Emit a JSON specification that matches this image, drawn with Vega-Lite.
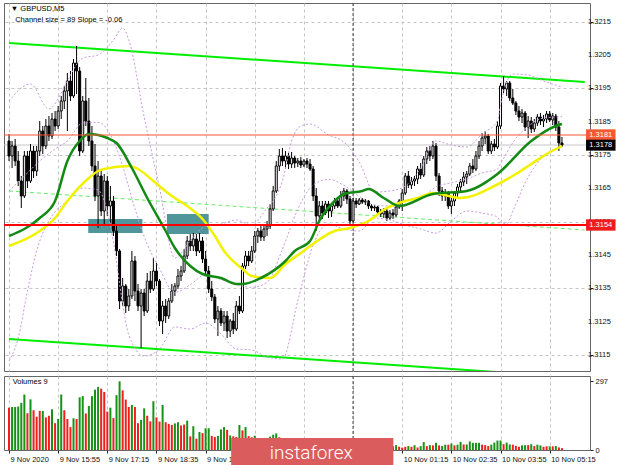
{
"$schema":"https://vega.github.io/schema/vega-lite/v6.json",
"background":"white",
"padding":{"left":2,"top":2,"right":0,"bottom":0},
"spacing":3,
"config":{"view":{"stroke":"#666666","strokeWidth":1},"font":"Liberation Sans","axis":{"gridColor":"#c4c4c4","gridDash":[3,3],"gridWidth":1,"labelFont":"Liberation Sans","labelFontSize":7.5,"labelColor":"#111111","tickColor":"#222222","tickSize":3,"domain":false,"title":null}},
"datasets":{
"bars":[
{"t":"2020-11-09T14:35","o":1.31792,"h":1.31813,"l":1.31732,"c":1.31747,"v":183,"d":"R"},
{"t":"2020-11-09T14:40","o":1.31747,"h":1.31792,"l":1.31711,"c":1.31777,"v":186,"d":"G"},
{"t":"2020-11-09T14:45","o":1.31777,"h":1.31798,"l":1.31717,"c":1.31732,"v":186,"d":"G"},
{"t":"2020-11-09T14:50","o":1.31732,"h":1.31762,"l":1.31657,"c":1.31672,"v":188,"d":"G"},
{"t":"2020-11-09T14:55","o":1.31672,"h":1.31687,"l":1.31591,"c":1.31627,"v":204,"d":"G"},
{"t":"2020-11-09T15:00","o":1.31627,"h":1.31762,"l":1.31621,"c":1.31747,"v":240,"d":"G"},
{"t":"2020-11-09T15:05","o":1.31747,"h":1.31762,"l":1.31651,"c":1.31672,"v":159,"d":"R"},
{"t":"2020-11-09T15:10","o":1.31672,"h":1.31783,"l":1.31666,"c":1.31762,"v":219,"d":"G"},
{"t":"2020-11-09T15:15","o":1.31762,"h":1.31777,"l":1.31681,"c":1.31702,"v":172,"d":"R"},
{"t":"2020-11-09T15:20","o":1.31702,"h":1.31777,"l":1.31687,"c":1.31762,"v":144,"d":"R"},
{"t":"2020-11-09T15:25","o":1.31762,"h":1.31852,"l":1.31747,"c":1.31822,"v":169,"d":"R"},
{"t":"2020-11-09T15:30","o":1.31822,"h":1.31837,"l":1.31753,"c":1.31777,"v":169,"d":"G"},
{"t":"2020-11-09T15:35","o":1.31777,"h":1.31858,"l":1.31768,"c":1.31837,"v":141,"d":"R"},
{"t":"2020-11-09T15:40","o":1.31837,"h":1.31867,"l":1.31792,"c":1.31807,"v":148,"d":"R"},
{"t":"2020-11-09T15:45","o":1.31807,"h":1.31876,"l":1.31798,"c":1.31858,"v":176,"d":"G"},
{"t":"2020-11-09T15:50","o":1.31858,"h":1.31882,"l":1.31822,"c":1.31837,"v":116,"d":"R"},
{"t":"2020-11-09T15:55","o":1.31837,"h":1.31897,"l":1.31828,"c":1.31882,"v":134,"d":"G"},
{"t":"2020-11-09T16:00","o":1.31882,"h":1.31927,"l":1.31858,"c":1.31912,"v":240,"d":"G"},
{"t":"2020-11-09T16:05","o":1.31912,"h":1.31957,"l":1.31888,"c":1.31942,"v":172,"d":"R"},
{"t":"2020-11-09T16:10","o":1.31942,"h":1.31996,"l":1.31822,"c":1.31972,"v":134,"d":"R"},
{"t":"2020-11-09T16:15","o":1.31972,"h":1.32002,"l":1.31912,"c":1.31927,"v":99,"d":"R"},
{"t":"2020-11-09T16:20","o":1.31927,"h":1.32038,"l":1.31921,"c":1.32026,"v":137,"d":"G"},
{"t":"2020-11-09T16:25","o":1.32026,"h":1.32077,"l":1.31933,"c":1.32002,"v":134,"d":"R"},
{"t":"2020-11-09T16:30","o":1.32002,"h":1.32014,"l":1.31747,"c":1.31762,"v":228,"d":"G"},
{"t":"2020-11-09T16:35","o":1.31762,"h":1.31927,"l":1.31756,"c":1.31912,"v":233,"d":"G"},
{"t":"2020-11-09T16:40","o":1.31912,"h":1.31981,"l":1.31837,"c":1.31852,"v":158,"d":"R"},
{"t":"2020-11-09T16:45","o":1.31852,"h":1.31921,"l":1.31777,"c":1.31792,"v":190,"d":"G"},
{"t":"2020-11-09T16:50","o":1.31792,"h":1.31837,"l":1.31702,"c":1.31717,"v":233,"d":"G"},
{"t":"2020-11-09T16:55","o":1.31717,"h":1.31783,"l":1.31612,"c":1.31627,"v":261,"d":"G"},
{"t":"2020-11-09T17:00","o":1.31627,"h":1.31732,"l":1.31531,"c":1.31687,"v":273,"d":"G"},
{"t":"2020-11-09T17:05","o":1.31687,"h":1.31702,"l":1.31567,"c":1.31582,"v":265,"d":"R"},
{"t":"2020-11-09T17:10","o":1.31582,"h":1.31693,"l":1.31543,"c":1.31672,"v":251,"d":"R"},
{"t":"2020-11-09T17:15","o":1.31672,"h":1.31687,"l":1.31567,"c":1.31597,"v":166,"d":"R"},
{"t":"2020-11-09T17:20","o":1.31597,"h":1.31657,"l":1.31546,"c":1.31612,"v":183,"d":"G"},
{"t":"2020-11-09T17:25","o":1.31612,"h":1.31627,"l":1.31507,"c":1.31522,"v":138,"d":"R"},
{"t":"2020-11-09T17:30","o":1.31522,"h":1.31537,"l":1.31447,"c":1.31462,"v":237,"d":"G"},
{"t":"2020-11-09T17:35","o":1.31462,"h":1.31468,"l":1.31288,"c":1.31312,"v":297,"d":"G"},
{"t":"2020-11-09T17:40","o":1.31312,"h":1.31381,"l":1.31297,"c":1.31357,"v":258,"d":"R"},
{"t":"2020-11-09T17:45","o":1.31357,"h":1.31363,"l":1.31276,"c":1.31297,"v":218,"d":"R"},
{"t":"2020-11-09T17:50","o":1.31297,"h":1.31348,"l":1.31282,"c":1.31327,"v":186,"d":"R"},
{"t":"2020-11-09T17:55","o":1.31327,"h":1.31462,"l":1.31318,"c":1.31432,"v":195,"d":"G"},
{"t":"2020-11-09T18:00","o":1.31432,"h":1.31447,"l":1.31312,"c":1.31342,"v":186,"d":"R"},
{"t":"2020-11-09T18:05","o":1.31342,"h":1.31363,"l":1.31282,"c":1.31297,"v":116,"d":"R"},
{"t":"2020-11-09T18:10","o":1.31297,"h":1.31348,"l":1.31171,"c":1.31336,"v":130,"d":"G"},
{"t":"2020-11-09T18:15","o":1.31336,"h":1.31348,"l":1.31267,"c":1.31282,"v":180,"d":"G"},
{"t":"2020-11-09T18:20","o":1.31282,"h":1.31396,"l":1.31276,"c":1.31372,"v":148,"d":"R"},
{"t":"2020-11-09T18:25","o":1.31372,"h":1.31402,"l":1.31336,"c":1.31348,"v":124,"d":"R"},
{"t":"2020-11-09T18:30","o":1.31348,"h":1.31441,"l":1.31342,"c":1.31402,"v":211,"d":"G"},
{"t":"2020-11-09T18:35","o":1.31402,"h":1.31426,"l":1.31357,"c":1.31372,"v":141,"d":"R"},
{"t":"2020-11-09T18:40","o":1.31372,"h":1.31378,"l":1.31237,"c":1.31252,"v":123,"d":"R"},
{"t":"2020-11-09T18:45","o":1.31252,"h":1.31312,"l":1.31213,"c":1.31297,"v":195,"d":"G"},
{"t":"2020-11-09T18:50","o":1.31297,"h":1.31318,"l":1.31246,"c":1.31267,"v":120,"d":"R"},
{"t":"2020-11-09T18:55","o":1.31267,"h":1.31321,"l":1.31258,"c":1.31312,"v":113,"d":"R"},
{"t":"2020-11-09T19:00","o":1.31312,"h":1.31363,"l":1.31306,"c":1.31342,"v":108,"d":"R"},
{"t":"2020-11-09T19:05","o":1.31342,"h":1.31366,"l":1.31327,"c":1.31357,"v":115,"d":"G"},
{"t":"2020-11-09T19:10","o":1.31357,"h":1.31408,"l":1.31348,"c":1.31387,"v":120,"d":"G"},
{"t":"2020-11-09T19:15","o":1.31387,"h":1.31417,"l":1.31372,"c":1.31402,"v":106,"d":"R"},
{"t":"2020-11-09T19:20","o":1.31402,"h":1.31468,"l":1.31396,"c":1.31447,"v":110,"d":"R"},
{"t":"2020-11-09T19:25","o":1.31447,"h":1.31507,"l":1.31438,"c":1.31492,"v":127,"d":"G"},
{"t":"2020-11-09T19:30","o":1.31492,"h":1.31513,"l":1.31462,"c":1.31477,"v":59,"d":"R"},
{"t":"2020-11-09T19:35","o":1.31477,"h":1.31516,"l":1.31462,"c":1.31498,"v":103,"d":"G"},
{"t":"2020-11-09T19:40","o":1.31498,"h":1.31513,"l":1.31447,"c":1.31462,"v":49,"d":"R"},
{"t":"2020-11-09T19:45","o":1.31462,"h":1.31516,"l":1.31456,"c":1.31492,"v":78,"d":"G"},
{"t":"2020-11-09T19:50","o":1.31492,"h":1.31504,"l":1.31426,"c":1.31438,"v":73,"d":"R"},
{"t":"2020-11-09T19:55","o":1.31438,"h":1.31462,"l":1.31387,"c":1.31402,"v":94,"d":"G"},
{"t":"2020-11-09T20:00","o":1.31402,"h":1.31417,"l":1.31336,"c":1.31348,"v":94,"d":"G"},
{"t":"2020-11-09T20:05","o":1.31348,"h":1.31372,"l":1.31312,"c":1.31324,"v":61,"d":"R"},
{"t":"2020-11-09T20:10","o":1.31324,"h":1.31333,"l":1.31246,"c":1.31258,"v":56,"d":"R"},
{"t":"2020-11-09T20:15","o":1.31258,"h":1.31297,"l":1.31207,"c":1.31282,"v":61,"d":"G"},
{"t":"2020-11-09T20:20","o":1.31282,"h":1.31291,"l":1.31237,"c":1.31246,"v":89,"d":"G"},
{"t":"2020-11-09T20:25","o":1.31246,"h":1.31282,"l":1.31222,"c":1.31267,"v":99,"d":"G"},
{"t":"2020-11-09T20:30","o":1.31267,"h":1.31282,"l":1.31201,"c":1.31222,"v":87,"d":"R"},
{"t":"2020-11-09T20:35","o":1.31222,"h":1.31258,"l":1.31204,"c":1.31252,"v":63,"d":"G"},
{"t":"2020-11-09T20:40","o":1.31252,"h":1.31276,"l":1.31213,"c":1.31228,"v":59,"d":"R"},
{"t":"2020-11-09T20:45","o":1.31228,"h":1.31312,"l":1.31222,"c":1.31297,"v":56,"d":"R"},
{"t":"2020-11-09T20:50","o":1.31297,"h":1.31327,"l":1.31273,"c":1.31282,"v":108,"d":"G"},
{"t":"2020-11-09T20:55","o":1.31282,"h":1.31426,"l":1.31276,"c":1.31417,"v":85,"d":"R"},
{"t":"2020-11-09T21:00","o":1.31417,"h":1.31462,"l":1.31408,"c":1.31447,"v":99,"d":"G"},
{"t":"2020-11-09T21:05","o":1.31447,"h":1.31462,"l":1.31417,"c":1.31432,"v":60,"d":"R"},
{"t":"2020-11-09T21:10","o":1.31432,"h":1.31477,"l":1.31426,"c":1.31462,"v":55,"d":"R"},
{"t":"2020-11-09T21:15","o":1.31462,"h":1.31522,"l":1.31456,"c":1.31507,"v":62,"d":"G"},
{"t":"2020-11-09T21:20","o":1.31507,"h":1.31531,"l":1.31486,"c":1.31522,"v":48,"d":"R"},
{"t":"2020-11-09T21:25","o":1.31522,"h":1.31543,"l":1.31492,"c":1.31504,"v":45,"d":"R"},
{"t":"2020-11-09T21:30","o":1.31504,"h":1.31537,"l":1.31492,"c":1.31528,"v":52,"d":"G"},
{"t":"2020-11-09T21:35","o":1.31528,"h":1.31552,"l":1.31507,"c":1.31537,"v":47,"d":"R"},
{"t":"2020-11-09T21:40","o":1.31537,"h":1.31603,"l":1.31528,"c":1.31588,"v":58,"d":"G"},
{"t":"2020-11-09T21:45","o":1.31588,"h":1.31657,"l":1.31582,"c":1.31642,"v":66,"d":"G"},
{"t":"2020-11-09T21:50","o":1.31642,"h":1.31732,"l":1.31636,"c":1.31717,"v":72,"d":"G"},
{"t":"2020-11-09T21:55","o":1.31717,"h":1.31768,"l":1.31702,"c":1.31747,"v":55,"d":"R"},
{"t":"2020-11-09T22:00","o":1.31747,"h":1.31771,"l":1.31717,"c":1.31732,"v":49,"d":"R"},
{"t":"2020-11-09T22:05","o":1.31732,"h":1.31762,"l":1.31708,"c":1.31747,"v":46,"d":"R"},
{"t":"2020-11-09T22:10","o":1.31747,"h":1.31756,"l":1.31708,"c":1.31723,"v":40,"d":"R"},
{"t":"2020-11-09T22:15","o":1.31723,"h":1.31759,"l":1.31711,"c":1.31741,"v":44,"d":"G"},
{"t":"2020-11-09T22:20","o":1.31741,"h":1.31747,"l":1.31711,"c":1.31726,"v":38,"d":"R"},
{"t":"2020-11-09T22:25","o":1.31726,"h":1.31741,"l":1.31714,"c":1.31732,"v":35,"d":"R"},
{"t":"2020-11-09T22:30","o":1.31732,"h":1.31744,"l":1.31711,"c":1.31720,"v":37,"d":"G"},
{"t":"2020-11-09T22:35","o":1.31720,"h":1.31738,"l":1.31714,"c":1.31732,"v":33,"d":"R"},
{"t":"2020-11-09T22:40","o":1.31732,"h":1.31741,"l":1.31711,"c":1.31723,"v":36,"d":"G"},
{"t":"2020-11-09T22:45","o":1.31723,"h":1.31738,"l":1.31702,"c":1.31708,"v":39,"d":"G"},
{"t":"2020-11-09T22:50","o":1.31708,"h":1.31717,"l":1.31612,"c":1.31627,"v":48,"d":"G"},
{"t":"2020-11-09T22:55","o":1.31627,"h":1.31651,"l":1.31522,"c":1.31567,"v":52,"d":"G"},
{"t":"2020-11-09T23:00","o":1.31567,"h":1.31612,"l":1.31552,"c":1.31597,"v":41,"d":"R"},
{"t":"2020-11-09T23:05","o":1.31597,"h":1.31612,"l":1.31558,"c":1.31576,"v":38,"d":"R"},
{"t":"2020-11-09T23:10","o":1.31576,"h":1.31612,"l":1.31570,"c":1.31603,"v":35,"d":"R"},
{"t":"2020-11-09T23:15","o":1.31603,"h":1.31612,"l":1.31561,"c":1.31582,"v":37,"d":"G"},
{"t":"2020-11-09T23:20","o":1.31582,"h":1.31606,"l":1.31564,"c":1.31597,"v":30,"d":"R"},
{"t":"2020-11-09T23:25","o":1.31597,"h":1.31621,"l":1.31588,"c":1.31612,"v":33,"d":"G"},
{"t":"2020-11-09T23:30","o":1.31612,"h":1.31621,"l":1.31591,"c":1.31597,"v":28,"d":"R"},
{"t":"2020-11-09T23:35","o":1.31597,"h":1.31642,"l":1.31591,"c":1.31627,"v":34,"d":"G"},
{"t":"2020-11-09T23:40","o":1.31627,"h":1.31651,"l":1.31612,"c":1.31642,"v":30,"d":"R"},
{"t":"2020-11-09T23:45","o":1.31642,"h":1.31648,"l":1.31603,"c":1.31618,"v":27,"d":"R"},
{"t":"2020-11-09T23:50","o":1.31618,"h":1.31627,"l":1.31543,"c":1.31552,"v":35,"d":"G"},
{"t":"2020-11-09T23:55","o":1.31552,"h":1.31621,"l":1.31546,"c":1.31612,"v":30,"d":"R"},
{"t":"2020-11-10T00:00","o":1.31612,"h":1.31621,"l":1.31591,"c":1.31603,"v":22,"d":"R"},
{"t":"2020-11-10T00:05","o":1.31603,"h":1.31621,"l":1.31600,"c":1.31615,"v":18,"d":"R"},
{"t":"2020-11-10T00:10","o":1.31615,"h":1.31621,"l":1.31603,"c":1.31609,"v":15,"d":"R"},
{"t":"2020-11-10T00:15","o":1.31609,"h":1.31618,"l":1.31600,"c":1.31612,"v":17,"d":"G"},
{"t":"2020-11-10T00:20","o":1.31612,"h":1.31615,"l":1.31588,"c":1.31597,"v":14,"d":"R"},
{"t":"2020-11-10T00:25","o":1.31597,"h":1.31603,"l":1.31582,"c":1.31591,"v":16,"d":"G"},
{"t":"2020-11-10T00:30","o":1.31591,"h":1.31600,"l":1.31582,"c":1.31594,"v":12,"d":"R"},
{"t":"2020-11-10T00:35","o":1.31594,"h":1.31597,"l":1.31570,"c":1.31579,"v":15,"d":"G"},
{"t":"2020-11-10T00:40","o":1.31579,"h":1.31588,"l":1.31564,"c":1.31573,"v":13,"d":"R"},
{"t":"2020-11-10T00:45","o":1.31573,"h":1.31591,"l":1.31561,"c":1.31582,"v":16,"d":"G"},
{"t":"2020-11-10T00:50","o":1.31582,"h":1.31588,"l":1.31552,"c":1.31561,"v":14,"d":"R"},
{"t":"2020-11-10T00:55","o":1.31561,"h":1.31585,"l":1.31555,"c":1.31576,"v":18,"d":"G"},
{"t":"2020-11-10T01:00","o":1.31576,"h":1.31588,"l":1.31558,"c":1.31570,"v":16,"d":"R"},
{"t":"2020-11-10T01:05","o":1.31570,"h":1.31597,"l":1.31564,"c":1.31594,"v":21,"d":"G"},
{"t":"2020-11-10T01:10","o":1.31594,"h":1.31618,"l":1.31588,"c":1.31612,"v":14,"d":"R"},
{"t":"2020-11-10T01:15","o":1.31612,"h":1.31648,"l":1.31582,"c":1.31636,"v":10,"d":"R"},
{"t":"2020-11-10T01:20","o":1.31636,"h":1.31696,"l":1.31630,"c":1.31687,"v":14,"d":"R"},
{"t":"2020-11-10T01:25","o":1.31687,"h":1.31702,"l":1.31651,"c":1.31660,"v":17,"d":"G"},
{"t":"2020-11-10T01:30","o":1.31660,"h":1.31684,"l":1.31648,"c":1.31672,"v":14,"d":"R"},
{"t":"2020-11-10T01:35","o":1.31672,"h":1.31687,"l":1.31657,"c":1.31678,"v":21,"d":"G"},
{"t":"2020-11-10T01:40","o":1.31678,"h":1.31717,"l":1.31663,"c":1.31708,"v":11,"d":"R"},
{"t":"2020-11-10T01:45","o":1.31708,"h":1.31726,"l":1.31678,"c":1.31690,"v":17,"d":"G"},
{"t":"2020-11-10T01:50","o":1.31690,"h":1.31747,"l":1.31684,"c":1.31738,"v":34,"d":"G"},
{"t":"2020-11-10T01:55","o":1.31738,"h":1.31774,"l":1.31723,"c":1.31762,"v":17,"d":"R"},
{"t":"2020-11-10T02:00","o":1.31762,"h":1.31777,"l":1.31732,"c":1.31747,"v":21,"d":"G"},
{"t":"2020-11-10T02:05","o":1.31747,"h":1.31792,"l":1.31738,"c":1.31777,"v":20,"d":"R"},
{"t":"2020-11-10T02:10","o":1.31777,"h":1.31786,"l":1.31672,"c":1.31687,"v":31,"d":"G"},
{"t":"2020-11-10T02:15","o":1.31687,"h":1.31696,"l":1.31627,"c":1.31642,"v":20,"d":"R"},
{"t":"2020-11-10T02:20","o":1.31642,"h":1.31654,"l":1.31612,"c":1.31627,"v":17,"d":"G"},
{"t":"2020-11-10T02:25","o":1.31627,"h":1.31648,"l":1.31612,"c":1.31636,"v":23,"d":"G"},
{"t":"2020-11-10T02:30","o":1.31636,"h":1.31642,"l":1.31588,"c":1.31597,"v":23,"d":"R"},
{"t":"2020-11-10T02:35","o":1.31597,"h":1.31621,"l":1.31573,"c":1.31612,"v":28,"d":"G"},
{"t":"2020-11-10T02:40","o":1.31612,"h":1.31642,"l":1.31597,"c":1.31636,"v":20,"d":"R"},
{"t":"2020-11-10T02:45","o":1.31636,"h":1.31663,"l":1.31621,"c":1.31654,"v":23,"d":"G"},
{"t":"2020-11-10T02:50","o":1.31654,"h":1.31678,"l":1.31642,"c":1.31669,"v":35,"d":"G"},
{"t":"2020-11-10T02:55","o":1.31669,"h":1.31699,"l":1.31657,"c":1.31684,"v":24,"d":"R"},
{"t":"2020-11-10T03:00","o":1.31684,"h":1.31702,"l":1.31663,"c":1.31693,"v":24,"d":"G"},
{"t":"2020-11-10T03:05","o":1.31693,"h":1.31726,"l":1.31687,"c":1.31717,"v":37,"d":"G"},
{"t":"2020-11-10T03:10","o":1.31717,"h":1.31738,"l":1.31696,"c":1.31708,"v":31,"d":"G"},
{"t":"2020-11-10T03:15","o":1.31708,"h":1.31762,"l":1.31702,"c":1.31747,"v":31,"d":"G"},
{"t":"2020-11-10T03:20","o":1.31747,"h":1.31792,"l":1.31738,"c":1.31777,"v":31,"d":"G"},
{"t":"2020-11-10T03:25","o":1.31777,"h":1.31816,"l":1.31762,"c":1.31801,"v":23,"d":"R"},
{"t":"2020-11-10T03:30","o":1.31801,"h":1.31822,"l":1.31783,"c":1.31807,"v":21,"d":"R"},
{"t":"2020-11-10T03:35","o":1.31807,"h":1.31813,"l":1.31753,"c":1.31762,"v":17,"d":"R"},
{"t":"2020-11-10T03:40","o":1.31762,"h":1.31792,"l":1.31753,"c":1.31783,"v":23,"d":"G"},
{"t":"2020-11-10T03:45","o":1.31783,"h":1.31798,"l":1.31762,"c":1.31774,"v":32,"d":"G"},
{"t":"2020-11-10T03:50","o":1.31774,"h":1.31852,"l":1.31768,"c":1.31837,"v":41,"d":"G"},
{"t":"2020-11-10T03:55","o":1.31837,"h":1.31966,"l":1.31828,"c":1.31957,"v":41,"d":"G"},
{"t":"2020-11-10T04:00","o":1.31957,"h":1.31987,"l":1.31936,"c":1.31948,"v":25,"d":"R"},
{"t":"2020-11-10T04:05","o":1.31948,"h":1.31972,"l":1.31927,"c":1.31966,"v":32,"d":"G"},
{"t":"2020-11-10T04:10","o":1.31966,"h":1.31972,"l":1.31912,"c":1.31921,"v":24,"d":"G"},
{"t":"2020-11-10T04:15","o":1.31921,"h":1.31948,"l":1.31900,"c":1.31906,"v":23,"d":"R"},
{"t":"2020-11-10T04:20","o":1.31906,"h":1.31912,"l":1.31870,"c":1.31882,"v":18,"d":"R"},
{"t":"2020-11-10T04:25","o":1.31882,"h":1.31897,"l":1.31852,"c":1.31864,"v":14,"d":"R"},
{"t":"2020-11-10T04:30","o":1.31864,"h":1.31888,"l":1.31846,"c":1.31876,"v":20,"d":"G"},
{"t":"2020-11-10T04:35","o":1.31876,"h":1.31882,"l":1.31822,"c":1.31834,"v":21,"d":"G"},
{"t":"2020-11-10T04:40","o":1.31834,"h":1.31867,"l":1.31801,"c":1.31852,"v":21,"d":"R"},
{"t":"2020-11-10T04:45","o":1.31852,"h":1.31864,"l":1.31816,"c":1.31828,"v":25,"d":"G"},
{"t":"2020-11-10T04:50","o":1.31828,"h":1.31858,"l":1.31819,"c":1.31846,"v":17,"d":"R"},
{"t":"2020-11-10T04:55","o":1.31846,"h":1.31873,"l":1.31837,"c":1.31864,"v":23,"d":"G"},
{"t":"2020-11-10T05:00","o":1.31864,"h":1.31876,"l":1.31840,"c":1.31852,"v":20,"d":"G"},
{"t":"2020-11-10T05:05","o":1.31852,"h":1.31870,"l":1.31834,"c":1.31858,"v":14,"d":"R"},
{"t":"2020-11-10T05:10","o":1.31858,"h":1.31882,"l":1.31846,"c":1.31873,"v":16,"d":"R"},
{"t":"2020-11-10T05:15","o":1.31873,"h":1.31882,"l":1.31849,"c":1.31855,"v":16,"d":"G"},
{"t":"2020-11-10T05:20","o":1.31855,"h":1.31876,"l":1.31840,"c":1.31867,"v":16,"d":"R"},
{"t":"2020-11-10T05:25","o":1.31867,"h":1.31873,"l":1.31822,"c":1.31834,"v":17,"d":"G"},
{"t":"2020-11-10T05:30","o":1.31834,"h":1.31852,"l":1.31762,"c":1.31786,"v":11,"d":"R"},
{"t":"2020-11-10T05:35","o":1.31786,"h":1.31804,"l":1.31774,"c":1.31780,"v":8,"d":"R"}
],
"ind":[
{"s":"gr","t":"2020-11-09T14:35","p":1.31507},{"s":"gr","t":"2020-11-09T15:25","p":1.31561},{"s":"gr","t":"2020-11-09T15:50","p":1.31612},{"s":"gr","t":"2020-11-09T16:10","p":1.31732},{"s":"gr","t":"2020-11-09T16:30","p":1.31792},{"s":"gr","t":"2020-11-09T16:45","p":1.31813},{"s":"gr","t":"2020-11-09T17:15","p":1.31801},{"s":"gr","t":"2020-11-09T17:30","p":1.31786},{"s":"gr","t":"2020-11-09T17:55","p":1.31711},{"s":"gr","t":"2020-11-09T18:20","p":1.31621},{"s":"gr","t":"2020-11-09T18:50","p":1.31522},{"s":"gr","t":"2020-11-09T19:05","p":1.31471},{"s":"gr","t":"2020-11-09T19:30","p":1.31417},{"s":"gr","t":"2020-11-09T19:50","p":1.31393},{"s":"gr","t":"2020-11-09T20:20","p":1.31381},{"s":"gr","t":"2020-11-09T20:45","p":1.31363},{"s":"gr","t":"2020-11-09T20:55","p":1.31363},{"s":"gr","t":"2020-11-09T21:25","p":1.31381},{"s":"gr","t":"2020-11-09T22:05","p":1.31432},{"s":"gr","t":"2020-11-09T22:20","p":1.31462},{"s":"gr","t":"2020-11-09T22:45","p":1.31492},{"s":"gr","t":"2020-11-09T23:00","p":1.31552},{"s":"gr","t":"2020-11-09T23:25","p":1.31612},{"s":"gr","t":"2020-11-09T23:40","p":1.31633},{"s":"gr","t":"2020-11-10T00:10","p":1.31642},{"s":"gr","t":"2020-11-10T00:20","p":1.31648},{"s":"gr","t":"2020-11-10T00:45","p":1.31621},{"s":"gr","t":"2020-11-10T01:10","p":1.31597},{"s":"gr","t":"2020-11-10T02:05","p":1.31633},{"s":"gr","t":"2020-11-10T03:00","p":1.31642},{"s":"gr","t":"2020-11-10T03:50","p":1.31693},{"s":"gr","t":"2020-11-10T04:45","p":1.31792},{"s":"gr","t":"2020-11-10T05:25","p":1.31837},{"s":"gr","t":"2020-11-10T05:35","p":1.31843},
{"s":"yl","t":"2020-11-09T14:35","p":1.31477},{"s":"yl","t":"2020-11-09T15:25","p":1.31522},{"s":"yl","t":"2020-11-09T15:50","p":1.31561},{"s":"yl","t":"2020-11-09T16:10","p":1.31612},{"s":"yl","t":"2020-11-09T16:45","p":1.31681},{"s":"yl","t":"2020-11-09T17:00","p":1.31702},{"s":"yl","t":"2020-11-09T17:10","p":1.31708},{"s":"yl","t":"2020-11-09T17:50","p":1.31717},{"s":"yl","t":"2020-11-09T18:05","p":1.31708},{"s":"yl","t":"2020-11-09T18:30","p":1.31672},{"s":"yl","t":"2020-11-09T19:00","p":1.31627},{"s":"yl","t":"2020-11-09T19:25","p":1.31597},{"s":"yl","t":"2020-11-09T19:50","p":1.31558},{"s":"yl","t":"2020-11-09T20:10","p":1.31507},{"s":"yl","t":"2020-11-09T20:25","p":1.31462},{"s":"yl","t":"2020-11-09T20:55","p":1.31408},{"s":"yl","t":"2020-11-09T21:10","p":1.31387},{"s":"yl","t":"2020-11-09T21:40","p":1.31381},{"s":"yl","t":"2020-11-09T22:05","p":1.31423},{"s":"yl","t":"2020-11-09T22:30","p":1.31456},{"s":"yl","t":"2020-11-09T23:25","p":1.31522},{"s":"yl","t":"2020-11-09T23:50","p":1.31531},{"s":"yl","t":"2020-11-10T00:20","p":1.31552},{"s":"yl","t":"2020-11-10T00:50","p":1.31591},{"s":"yl","t":"2020-11-10T01:10","p":1.31606},{"s":"yl","t":"2020-11-10T01:40","p":1.31621},{"s":"yl","t":"2020-11-10T02:05","p":1.31636},{"s":"yl","t":"2020-11-10T02:50","p":1.31621},{"s":"yl","t":"2020-11-10T03:45","p":1.31657},{"s":"yl","t":"2020-11-10T04:20","p":1.31693},{"s":"yl","t":"2020-11-10T04:45","p":1.31723},{"s":"yl","t":"2020-11-10T05:10","p":1.31753},{"s":"yl","t":"2020-11-10T05:35","p":1.31777},
{"s":"u","t":"2020-11-09T14:35","p":1.31912},{"s":"u","t":"2020-11-09T15:10","p":1.31963},{"s":"u","t":"2020-11-09T15:40","p":1.31888},{"s":"u","t":"2020-11-09T16:00","p":1.31936},{"s":"u","t":"2020-11-09T16:10","p":1.31972},{"s":"u","t":"2020-11-09T16:35","p":1.32041},{"s":"u","t":"2020-11-09T17:00","p":1.32050},{"s":"u","t":"2020-11-09T17:25","p":1.32095},{"s":"u","t":"2020-11-09T17:40","p":1.32131},{"s":"u","t":"2020-11-09T17:50","p":1.32095},{"s":"u","t":"2020-11-09T18:15","p":1.31864},{"s":"u","t":"2020-11-09T18:40","p":1.31651},{"s":"u","t":"2020-11-09T19:05","p":1.31441},{"s":"u","t":"2020-11-09T19:30","p":1.31492},{"s":"u","t":"2020-11-09T19:55","p":1.31537},{"s":"u","t":"2020-11-09T20:20","p":1.31543},{"s":"u","t":"2020-11-09T20:45","p":1.31555},{"s":"u","t":"2020-11-09T21:10","p":1.31540},{"s":"u","t":"2020-11-09T21:35","p":1.31591},{"s":"u","t":"2020-11-09T21:45","p":1.31612},{"s":"u","t":"2020-11-09T22:00","p":1.31672},{"s":"u","t":"2020-11-09T22:15","p":1.31792},{"s":"u","t":"2020-11-09T22:30","p":1.31837},{"s":"u","t":"2020-11-09T22:45","p":1.31843},{"s":"u","t":"2020-11-09T23:15","p":1.31810},{"s":"u","t":"2020-11-09T23:40","p":1.31789},{"s":"u","t":"2020-11-10T00:05","p":1.31729},{"s":"u","t":"2020-11-10T00:30","p":1.31639},{"s":"u","t":"2020-11-10T00:55","p":1.31642},{"s":"u","t":"2020-11-10T01:20","p":1.31657},{"s":"u","t":"2020-11-10T01:45","p":1.31711},{"s":"u","t":"2020-11-10T02:10","p":1.31792},{"s":"u","t":"2020-11-10T02:35","p":1.31780},{"s":"u","t":"2020-11-10T03:00","p":1.31774},{"s":"u","t":"2020-11-10T03:25","p":1.31813},{"s":"u","t":"2020-11-10T03:50","p":1.31852},{"s":"u","t":"2020-11-10T03:55","p":1.31900},{"s":"u","t":"2020-11-10T04:05","p":1.31969},{"s":"u","t":"2020-11-10T04:15","p":1.31993},{"s":"u","t":"2020-11-10T04:40","p":1.31990},{"s":"u","t":"2020-11-10T05:05","p":1.31972},{"s":"u","t":"2020-11-10T05:35","p":1.31954},
{"s":"m","t":"2020-11-09T14:35","p":1.31642},{"s":"m","t":"2020-11-09T15:00","p":1.31687},{"s":"m","t":"2020-11-09T15:25","p":1.31732},{"s":"m","t":"2020-11-09T15:50","p":1.31768},{"s":"m","t":"2020-11-09T16:10","p":1.31792},{"s":"m","t":"2020-11-09T16:35","p":1.31846},{"s":"m","t":"2020-11-09T17:00","p":1.31848},{"s":"m","t":"2020-11-09T17:25","p":1.31792},{"s":"m","t":"2020-11-09T17:40","p":1.31717},{"s":"m","t":"2020-11-09T17:50","p":1.31652},{"s":"m","t":"2020-11-09T18:15","p":1.31505},{"s":"m","t":"2020-11-09T18:40","p":1.31409},{"s":"m","t":"2020-11-09T19:05","p":1.31338},{"s":"m","t":"2020-11-09T19:30","p":1.31361},{"s":"m","t":"2020-11-09T19:55","p":1.31391},{"s":"m","t":"2020-11-09T20:20","p":1.31377},{"s":"m","t":"2020-11-09T20:45","p":1.31361},{"s":"m","t":"2020-11-09T21:10","p":1.31353},{"s":"m","t":"2020-11-09T21:35","p":1.31368},{"s":"m","t":"2020-11-09T22:00","p":1.31467},{"s":"m","t":"2020-11-09T22:25","p":1.31587},{"s":"m","t":"2020-11-09T22:50","p":1.31660},{"s":"m","t":"2020-11-09T23:15","p":1.31677},{"s":"m","t":"2020-11-09T23:40","p":1.31659},{"s":"m","t":"2020-11-10T00:05","p":1.31626},{"s":"m","t":"2020-11-10T00:30","p":1.31600},{"s":"m","t":"2020-11-10T00:55","p":1.31597},{"s":"m","t":"2020-11-10T01:20","p":1.31599},{"s":"m","t":"2020-11-10T01:45","p":1.31619},{"s":"m","t":"2020-11-10T02:10","p":1.31654},{"s":"m","t":"2020-11-10T02:35","p":1.31667},{"s":"m","t":"2020-11-10T03:00","p":1.31678},{"s":"m","t":"2020-11-10T03:25","p":1.31696},{"s":"m","t":"2020-11-10T03:50","p":1.31708},{"s":"m","t":"2020-11-10T03:55","p":1.31724},{"s":"m","t":"2020-11-10T04:05","p":1.31756},{"s":"m","t":"2020-11-10T04:15","p":1.31787},{"s":"m","t":"2020-11-10T04:40","p":1.31836},{"s":"m","t":"2020-11-10T05:05","p":1.31861},{"s":"m","t":"2020-11-10T05:35","p":1.31865},
{"s":"l","t":"2020-11-09T14:35","p":1.31132},{"s":"l","t":"2020-11-09T14:50","p":1.31201},{"s":"l","t":"2020-11-09T15:05","p":1.31342},{"s":"l","t":"2020-11-09T15:20","p":1.31462},{"s":"l","t":"2020-11-09T15:45","p":1.31567},{"s":"l","t":"2020-11-09T16:10","p":1.31612},{"s":"l","t":"2020-11-09T16:35","p":1.31651},{"s":"l","t":"2020-11-09T17:00","p":1.31645},{"s":"l","t":"2020-11-09T17:25","p":1.31489},{"s":"l","t":"2020-11-09T17:40","p":1.31303},{"s":"l","t":"2020-11-09T17:50","p":1.31210},{"s":"l","t":"2020-11-09T18:15","p":1.31147},{"s":"l","t":"2020-11-09T18:40","p":1.31168},{"s":"l","t":"2020-11-09T19:05","p":1.31234},{"s":"l","t":"2020-11-09T19:30","p":1.31228},{"s":"l","t":"2020-11-09T19:55","p":1.31246},{"s":"l","t":"2020-11-09T20:20","p":1.31213},{"s":"l","t":"2020-11-09T20:45","p":1.31168},{"s":"l","t":"2020-11-09T21:10","p":1.31165},{"s":"l","t":"2020-11-09T21:35","p":1.31144},{"s":"l","t":"2020-11-09T22:00","p":1.31138},{"s":"l","t":"2020-11-09T22:25","p":1.31312},{"s":"l","t":"2020-11-09T22:50","p":1.31480},{"s":"l","t":"2020-11-09T23:15","p":1.31543},{"s":"l","t":"2020-11-09T23:40","p":1.31528},{"s":"l","t":"2020-11-10T00:05","p":1.31522},{"s":"l","t":"2020-11-10T00:30","p":1.31561},{"s":"l","t":"2020-11-10T00:55","p":1.31555},{"s":"l","t":"2020-11-10T01:20","p":1.31540},{"s":"l","t":"2020-11-10T01:45","p":1.31528},{"s":"l","t":"2020-11-10T02:10","p":1.31516},{"s":"l","t":"2020-11-10T02:35","p":1.31552},{"s":"l","t":"2020-11-10T03:00","p":1.31582},{"s":"l","t":"2020-11-10T03:25","p":1.31576},{"s":"l","t":"2020-11-10T03:50","p":1.31564},{"s":"l","t":"2020-11-10T03:55","p":1.31549},{"s":"l","t":"2020-11-10T04:05","p":1.31543},{"s":"l","t":"2020-11-10T04:15","p":1.31582},{"s":"l","t":"2020-11-10T04:40","p":1.31684},{"s":"l","t":"2020-11-10T05:05","p":1.31747},{"s":"l","t":"2020-11-10T05:35","p":1.31774}
],
"chan":[
{"s":"top","t":"2020-11-09T14:35","p":1.32086},{"s":"top","t":"2020-11-10T06:12","p":1.31969},
{"s":"bot","t":"2020-11-09T14:35","p":1.31198},{"s":"bot","t":"2020-11-10T06:12","p":1.31081},
{"s":"mid","t":"2020-11-09T14:35","p":1.31642},{"s":"mid","t":"2020-11-10T06:12","p":1.31525}
],
"boxes":[
{"t1":"2020-11-09T16:44","t2":"2020-11-09T18:12","p1":1.31558,"p2":1.31516},
{"t1":"2020-11-09T18:52","t2":"2020-11-09T20:00","p1":1.31573,"p2":1.31513}
],
"levels":[{"lab":"1.3181","p":1.3181},{"lab":"1.3178","p":1.3178},{"lab":"1.3154","p":1.3154}],
"pticks":[{"p":1.3115},{"p":1.3125},{"p":1.3135},{"p":1.3145},{"p":1.3155},{"p":1.3165},{"p":1.3175},{"p":1.3185},{"p":1.3195},{"p":1.3205},{"p":1.3215}]
},
"vconcat":[
{"width":586,"height":368,
"layer":[
{"data":{"name":"boxes"},"mark":{"type":"rect","color":"#4f9599"},
"encoding":{
"x":{"field":"t1","type":"temporal","title":null,"scale":{"domain":[{"year":2020,"month":11,"date":9,"hours":14,"minutes":35},{"year":2020,"month":11,"date":10,"hours":6,"minutes":12,"seconds":30}]},
"axis":{"values":[{"year":2020,"month":11,"date":9,"hours":14,"minutes":35},{"year":2020,"month":11,"date":9,"hours":15,"minutes":15},{"year":2020,"month":11,"date":9,"hours":15,"minutes":55},{"year":2020,"month":11,"date":9,"hours":16,"minutes":35},{"year":2020,"month":11,"date":9,"hours":17,"minutes":15},{"year":2020,"month":11,"date":9,"hours":17,"minutes":55},{"year":2020,"month":11,"date":9,"hours":18,"minutes":35},{"year":2020,"month":11,"date":9,"hours":19,"minutes":15},{"year":2020,"month":11,"date":9,"hours":19,"minutes":55},{"year":2020,"month":11,"date":9,"hours":20,"minutes":35},{"year":2020,"month":11,"date":9,"hours":21,"minutes":15},{"year":2020,"month":11,"date":9,"hours":21,"minutes":55},{"year":2020,"month":11,"date":9,"hours":22,"minutes":35},{"year":2020,"month":11,"date":9,"hours":23,"minutes":15},{"year":2020,"month":11,"date":9,"hours":23,"minutes":55},{"year":2020,"month":11,"date":10,"hours":0,"minutes":35},{"year":2020,"month":11,"date":10,"hours":1,"minutes":15},{"year":2020,"month":11,"date":10,"hours":1,"minutes":55},{"year":2020,"month":11,"date":10,"hours":2,"minutes":35},{"year":2020,"month":11,"date":10,"hours":3,"minutes":15},{"year":2020,"month":11,"date":10,"hours":3,"minutes":55},{"year":2020,"month":11,"date":10,"hours":4,"minutes":35},{"year":2020,"month":11,"date":10,"hours":5,"minutes":15},{"year":2020,"month":11,"date":10,"hours":5,"minutes":55}],"labels":false,"ticks":false,"domain":false,"grid":true,"title":null}},
"x2":{"field":"t2"},
"y":{"field":"p1","type":"quantitative","title":null,"scale":{"domain":[1.31102,1.32206],"nice":false,"zero":false},
"axis":{"orient":"right","values":[1.3115,1.3125,1.3135,1.3145,1.3155,1.3165,1.3175,1.3185,1.3195,1.3205,1.3215],"labels":false,"grid":true,"tickSize":3,"title":null}},
"y2":{"field":"p2"}}},
{"data":{"values":[{}]},"mark":{"type":"rule","color":"#c6c6c6","strokeWidth":1},
"encoding":{"y":{"datum":1.3178,"type":"quantitative","title":null,"scale":{"domain":[1.31102,1.32206],"nice":false,"zero":false}}}},
{"data":{"name":"chan"},"transform":[{"filter":"datum.s != 'mid'"}],"mark":{"type":"line","color":"#00ee00","strokeWidth":2,"clip":true},
"encoding":{"x":{"field":"t","type":"temporal","title":null,"scale":{"domain":[{"year":2020,"month":11,"date":9,"hours":14,"minutes":35},{"year":2020,"month":11,"date":10,"hours":6,"minutes":12,"seconds":30}]}},
"y":{"field":"p","type":"quantitative","title":null,"scale":{"domain":[1.31102,1.32206],"nice":false,"zero":false}},"detail":{"field":"s"}}},
{"data":{"name":"chan"},"transform":[{"filter":"datum.s == 'mid'"}],"mark":{"type":"line","color":"#66ee66","strokeWidth":1,"strokeDash":[4,3],"clip":true},
"encoding":{"x":{"field":"t","type":"temporal","title":null,"scale":{"domain":[{"year":2020,"month":11,"date":9,"hours":14,"minutes":35},{"year":2020,"month":11,"date":10,"hours":6,"minutes":12,"seconds":30}]}},
"y":{"field":"p","type":"quantitative","title":null,"scale":{"domain":[1.31102,1.32206],"nice":false,"zero":false}}}},
{"data":{"values":[{}]},"mark":{"type":"rule","color":"#3a3a3a","strokeDash":[3,2],"strokeWidth":1},
"encoding":{"x":{"datum":{"year":2020,"month":11,"date":9,"hours":23,"minutes":55},"type":"temporal","title":null,"scale":{"domain":[{"year":2020,"month":11,"date":9,"hours":14,"minutes":35},{"year":2020,"month":11,"date":10,"hours":6,"minutes":12,"seconds":30}]}}}},
{"data":{"name":"bars"},"mark":{"type":"rule","color":"#000000","strokeWidth":1},
"encoding":{"x":{"field":"t","type":"temporal","title":null,"scale":{"domain":[{"year":2020,"month":11,"date":9,"hours":14,"minutes":35},{"year":2020,"month":11,"date":10,"hours":6,"minutes":12,"seconds":30}]}},
"y":{"field":"l","type":"quantitative","title":null,"scale":{"domain":[1.31102,1.32206],"nice":false,"zero":false}},"y2":{"field":"h"}}},
{"data":{"name":"bars"},"mark":{"type":"bar","size":2,"stroke":"#000000","strokeWidth":1},
"encoding":{"x":{"field":"t","type":"temporal","title":null,"scale":{"domain":[{"year":2020,"month":11,"date":9,"hours":14,"minutes":35},{"year":2020,"month":11,"date":10,"hours":6,"minutes":12,"seconds":30}]}},
"y":{"field":"o","type":"quantitative","title":null,"scale":{"domain":[1.31102,1.32206],"nice":false,"zero":false}},"y2":{"field":"c"},
"fill":{"condition":{"test":"datum.c >= datum.o","value":"#ffffff"},"value":"#000000"}}},
{"data":{"name":"ind"},"transform":[{"filter":"datum.s == 'u' || datum.s == 'm' || datum.s == 'l'"}],"mark":{"type":"line","color":"#c79be0","strokeWidth":1,"strokeDash":[2,2],"interpolate":"monotone"},
"encoding":{"x":{"field":"t","type":"temporal","title":null,"scale":{"domain":[{"year":2020,"month":11,"date":9,"hours":14,"minutes":35},{"year":2020,"month":11,"date":10,"hours":6,"minutes":12,"seconds":30}]}},
"y":{"field":"p","type":"quantitative","title":null,"scale":{"domain":[1.31102,1.32206],"nice":false,"zero":false}},"detail":{"field":"s"}}},
{"data":{"name":"ind"},"transform":[{"filter":"datum.s == 'yl'"}],"mark":{"type":"line","color":"#f2f200","strokeWidth":2.5,"interpolate":"monotone"},
"encoding":{"x":{"field":"t","type":"temporal","title":null,"scale":{"domain":[{"year":2020,"month":11,"date":9,"hours":14,"minutes":35},{"year":2020,"month":11,"date":10,"hours":6,"minutes":12,"seconds":30}]}},
"y":{"field":"p","type":"quantitative","title":null,"scale":{"domain":[1.31102,1.32206],"nice":false,"zero":false}}}},
{"data":{"name":"ind"},"transform":[{"filter":"datum.s == 'gr'"}],"mark":{"type":"line","color":"#138a13","strokeWidth":2.5,"interpolate":"monotone"},
"encoding":{"x":{"field":"t","type":"temporal","title":null,"scale":{"domain":[{"year":2020,"month":11,"date":9,"hours":14,"minutes":35},{"year":2020,"month":11,"date":10,"hours":6,"minutes":12,"seconds":30}]}},
"y":{"field":"p","type":"quantitative","title":null,"scale":{"domain":[1.31102,1.32206],"nice":false,"zero":false}}}},
{"data":{"values":[{}]},"mark":{"type":"rule","color":"#ff5533","strokeWidth":1},
"encoding":{"y":{"datum":1.3181,"type":"quantitative","title":null,"scale":{"domain":[1.31102,1.32206],"nice":false,"zero":false}}}},
{"data":{"values":[{}]},"mark":{"type":"rule","color":"#ff0000","strokeWidth":2},
"encoding":{"y":{"datum":1.3154,"type":"quantitative","title":null,"scale":{"domain":[1.31102,1.32206],"nice":false,"zero":false}}}},
{"data":{"name":"pticks"},"mark":{"type":"text","color":"#111111","fontSize":7.5,"font":"Liberation Sans","align":"left","baseline":"middle"},
"encoding":{"x":{"datum":{"year":2020,"month":11,"date":10,"hours":6,"minutes":17,"seconds":24},"type":"temporal","title":null,"scale":{"domain":[{"year":2020,"month":11,"date":9,"hours":14,"minutes":35},{"year":2020,"month":11,"date":10,"hours":6,"minutes":12,"seconds":30}]}},
"y":{"field":"p","type":"quantitative","title":null,"scale":{"domain":[1.31102,1.32206],"nice":false,"zero":false}},"text":{"field":"p","type":"quantitative","format":".4f"}}},
{"data":{"values":[{}]},"mark":{"type":"rect","color":"#f45a32"},
"encoding":{"x":{"datum":{"year":2020,"month":11,"date":10,"hours":6,"minutes":14,"seconds":12},"type":"temporal","title":null,"scale":{"domain":[{"year":2020,"month":11,"date":9,"hours":14,"minutes":35},{"year":2020,"month":11,"date":10,"hours":6,"minutes":12,"seconds":30}]}},
"x2":{"datum":{"year":2020,"month":11,"date":10,"hours":7,"minutes":2,"seconds":12}},
"y":{"datum":1.31827,"type":"quantitative","title":null,"scale":{"domain":[1.31102,1.32206],"nice":false,"zero":false}},"y2":{"datum":1.31793}}},
{"data":{"values":[{}]},"mark":{"type":"rect","color":"#000000"},
"encoding":{"x":{"datum":{"year":2020,"month":11,"date":10,"hours":6,"minutes":14,"seconds":12},"type":"temporal","title":null,"scale":{"domain":[{"year":2020,"month":11,"date":9,"hours":14,"minutes":35},{"year":2020,"month":11,"date":10,"hours":6,"minutes":12,"seconds":30}]}},
"x2":{"datum":{"year":2020,"month":11,"date":10,"hours":7,"minutes":2,"seconds":12}},
"y":{"datum":1.31796,"type":"quantitative","title":null,"scale":{"domain":[1.31102,1.32206],"nice":false,"zero":false}},"y2":{"datum":1.31763}}},
{"data":{"values":[{}]},"mark":{"type":"rect","color":"#ee1c1c"},
"encoding":{"x":{"datum":{"year":2020,"month":11,"date":10,"hours":6,"minutes":14,"seconds":12},"type":"temporal","title":null,"scale":{"domain":[{"year":2020,"month":11,"date":9,"hours":14,"minutes":35},{"year":2020,"month":11,"date":10,"hours":6,"minutes":12,"seconds":30}]}},
"x2":{"datum":{"year":2020,"month":11,"date":10,"hours":7,"minutes":2,"seconds":12}},
"y":{"datum":1.31557,"type":"quantitative","title":null,"scale":{"domain":[1.31102,1.32206],"nice":false,"zero":false}},"y2":{"datum":1.31523}}},
{"data":{"name":"levels"},"mark":{"type":"text","color":"#ffffff","fontSize":7.5,"font":"Liberation Sans","align":"center","baseline":"middle"},
"encoding":{"x":{"datum":{"year":2020,"month":11,"date":10,"hours":6,"minutes":38,"seconds":12},"type":"temporal","title":null,"scale":{"domain":[{"year":2020,"month":11,"date":9,"hours":14,"minutes":35},{"year":2020,"month":11,"date":10,"hours":6,"minutes":12,"seconds":30}]}},
"y":{"field":"p","type":"quantitative","title":null,"scale":{"domain":[1.31102,1.32206],"nice":false,"zero":false}},"text":{"field":"lab"}}},
{"data":{"values":[{"txt":"▼ GBPUSD,M5"}]},"mark":{"type":"text","color":"#000000","fontSize":7.5,"font":"Liberation Sans","align":"left","baseline":"middle"},
"encoding":{"x":{"datum":{"year":2020,"month":11,"date":9,"hours":14,"minutes":38},"type":"temporal","title":null,"scale":{"domain":[{"year":2020,"month":11,"date":9,"hours":14,"minutes":35},{"year":2020,"month":11,"date":10,"hours":6,"minutes":12,"seconds":30}]}},
"y":{"datum":1.32188,"type":"quantitative","title":null,"scale":{"domain":[1.31102,1.32206],"nice":false,"zero":false}},"text":{"field":"txt"}}},
{"data":{"values":[{"txt":"Channel size = 89 Slope = -0.06"}]},"mark":{"type":"text","color":"#000000","fontSize":7.5,"font":"Liberation Sans","align":"left","baseline":"middle"},
"encoding":{"x":{"datum":{"year":2020,"month":11,"date":9,"hours":14,"minutes":45},"type":"temporal","title":null,"scale":{"domain":[{"year":2020,"month":11,"date":9,"hours":14,"minutes":35},{"year":2020,"month":11,"date":10,"hours":6,"minutes":12,"seconds":30}]}},
"y":{"datum":1.32155,"type":"quantitative","title":null,"scale":{"domain":[1.31102,1.32206],"nice":false,"zero":false}},"text":{"field":"txt"}}}
]},
{"width":586,"height":74,
"layer":[
{"data":{"name":"bars"},"mark":{"type":"bar","size":2},
"encoding":{
"x":{"field":"t","type":"temporal","title":null,"scale":{"domain":[{"year":2020,"month":11,"date":9,"hours":14,"minutes":35},{"year":2020,"month":11,"date":10,"hours":6,"minutes":12,"seconds":30}]},
"axis":{"values":[{"year":2020,"month":11,"date":9,"hours":14,"minutes":35},{"year":2020,"month":11,"date":9,"hours":15,"minutes":15},{"year":2020,"month":11,"date":9,"hours":15,"minutes":55},{"year":2020,"month":11,"date":9,"hours":16,"minutes":35},{"year":2020,"month":11,"date":9,"hours":17,"minutes":15},{"year":2020,"month":11,"date":9,"hours":17,"minutes":55},{"year":2020,"month":11,"date":9,"hours":18,"minutes":35},{"year":2020,"month":11,"date":9,"hours":19,"minutes":15},{"year":2020,"month":11,"date":9,"hours":19,"minutes":55},{"year":2020,"month":11,"date":9,"hours":20,"minutes":35},{"year":2020,"month":11,"date":9,"hours":21,"minutes":15},{"year":2020,"month":11,"date":9,"hours":21,"minutes":55},{"year":2020,"month":11,"date":9,"hours":22,"minutes":35},{"year":2020,"month":11,"date":9,"hours":23,"minutes":15},{"year":2020,"month":11,"date":9,"hours":23,"minutes":55},{"year":2020,"month":11,"date":10,"hours":0,"minutes":35},{"year":2020,"month":11,"date":10,"hours":1,"minutes":15},{"year":2020,"month":11,"date":10,"hours":1,"minutes":55},{"year":2020,"month":11,"date":10,"hours":2,"minutes":35},{"year":2020,"month":11,"date":10,"hours":3,"minutes":15},{"year":2020,"month":11,"date":10,"hours":3,"minutes":55},{"year":2020,"month":11,"date":10,"hours":4,"minutes":35},{"year":2020,"month":11,"date":10,"hours":5,"minutes":15},{"year":2020,"month":11,"date":10,"hours":5,"minutes":55}],
"grid":true,"domain":false,"title":null,"labelAlign":"left","labelBaseline":"top","labelPadding":2,"labelOffset":1,"labelFlush":false,"labelOverlap":false,"labelBound":false,"tickSize":3,
"labelExpr":"(hours(datum.value)*60+minutes(datum.value)+565)%80==0 && hours(datum.value)!=21 && hours(datum.value)!=22 && hours(datum.value)!=23 ? ((hours(datum.value)==14 && minutes(datum.value)==35) ? '9 Nov 2020' : timeFormat(datum.value,'%-d %b %H:%M')) : ''",
"tickOpacity":{"condition":{"test":"(hours(datum.value)*60+minutes(datum.value)+565)%80==0","value":1},"value":0}}},
"y":{"field":"v","type":"quantitative","title":null,"scale":{"domain":[0,320],"nice":false},
"axis":{"orient":"right","values":[0,297],"grid":false,"tickSize":3,"labelPadding":2,"labelOverlap":false,"title":null}},
"color":{"field":"d","type":"nominal","scale":{"domain":["G","R"],"range":["#169216","#f21e1e"]},"legend":null}}},
{"data":{"values":[{}]},"mark":{"type":"rule","color":"#3a3a3a","strokeDash":[3,2],"strokeWidth":1},
"encoding":{"x":{"datum":{"year":2020,"month":11,"date":9,"hours":23,"minutes":55},"type":"temporal","title":null,"scale":{"domain":[{"year":2020,"month":11,"date":9,"hours":14,"minutes":35},{"year":2020,"month":11,"date":10,"hours":6,"minutes":12,"seconds":30}]}}}},
{"data":{"values":[{"txt":"Volumes 9"}]},"mark":{"type":"text","color":"#000000","fontSize":7.5,"font":"Liberation Sans","align":"left","baseline":"middle"},
"encoding":{"x":{"datum":{"year":2020,"month":11,"date":9,"hours":14,"minutes":41},"type":"temporal","title":null,"scale":{"domain":[{"year":2020,"month":11,"date":9,"hours":14,"minutes":35},{"year":2020,"month":11,"date":10,"hours":6,"minutes":12,"seconds":30}]}},
"y":{"datum":292,"type":"quantitative","title":null,"scale":{"domain":[0,320],"nice":false}},"text":{"field":"txt"}}},
{"data":{"values":[{}]},"mark":{"type":"rect","color":"#db5c5c"},
"encoding":{"x":{"datum":{"year":2020,"month":11,"date":9,"hours":20,"minutes":36,"seconds":36},"type":"temporal","title":null,"scale":{"domain":[{"year":2020,"month":11,"date":9,"hours":14,"minutes":35},{"year":2020,"month":11,"date":10,"hours":6,"minutes":12,"seconds":30}]}},
"x2":{"datum":{"year":2020,"month":11,"date":10,"hours":1,"minutes":0,"seconds":36}},
"y":{"datum":52,"type":"quantitative","title":null,"scale":{"domain":[0,320],"nice":false}},"y2":{"datum":-73.5}}},
{"data":{"values":[{"txt":"instaforex"}]},"mark":{"type":"text","color":"#ffffff","fontSize":19,"font":"Roboto","fontWeight":300,"align":"center","baseline":"alphabetic"},
"encoding":{"x":{"datum":{"year":2020,"month":11,"date":9,"hours":22,"minutes":47},"type":"temporal","title":null,"scale":{"domain":[{"year":2020,"month":11,"date":9,"hours":14,"minutes":35},{"year":2020,"month":11,"date":10,"hours":6,"minutes":12,"seconds":30}]}},
"y":{"datum":-37.6,"type":"quantitative","title":null,"scale":{"domain":[0,320],"nice":false}},"text":{"field":"txt"}}}
]}
]
}
